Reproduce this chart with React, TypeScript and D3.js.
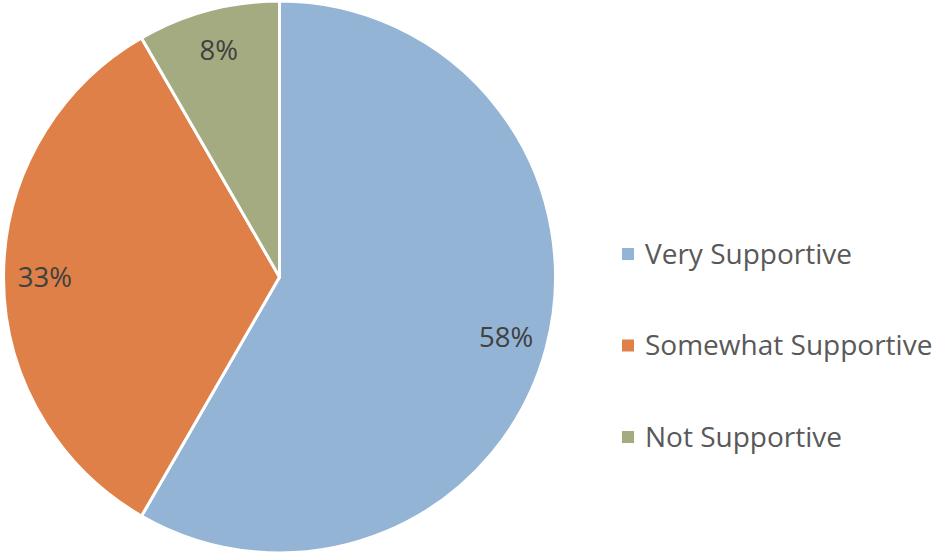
import React from "react";
import * as d3 from "d3";

const categories = ["Very Supportive", "Somewhat Supportive", "Not Supportive"];
const values = [35, 20, 5];
const labels = ["58%", "33%", "8%"];
const colors = ["#93B4D4", "#DE8047", "#A5AB80"];

const W = 933;
const H = 556;

export default function App() {
  const cx = 279.5;
  const cy = 277;
  const R = 276;
  const pie = d3.pie<number>().sort(null).value((d) => d);
  const arcs = pie(values);
  const arc = d3.arc<d3.PieArcDatum<number>>().innerRadius(0).outerRadius(R);
  const labelArc = d3
    .arc<d3.PieArcDatum<number>>()
    .innerRadius(R * 0.85)
    .outerRadius(R * 0.85);

  const legendY = d3.scalePoint<string>().domain(categories).range([254, 437]);

  return (
    <svg
      width={W}
      height={H}
      style={{ position: "absolute", left: 0, top: 0, background: "#fff" }}
      fontFamily="'Open Sans', sans-serif"
    >
      <g transform={`translate(${cx},${cy})`}>
        {arcs.map((a, i) => (
          <path key={i} d={arc(a) || ""} fill={colors[i]} stroke="#fff" strokeWidth={3} strokeLinejoin="round" />
        ))}
        {arcs.map((a, i) => {
          const [x, y] = labelArc.centroid(a);
          return (
            <text key={i} x={x} y={y} dy="0.35em" textAnchor="middle" fontSize={27.5} fill="#404040">
              {labels[i]}
            </text>
          );
        })}
      </g>
      {categories.map((c, i) => {
        const y = legendY(c)!;
        return (
          <g key={c}>
            <rect x={622} y={y - 6} width={12} height={12} fill={colors[i]} />
            <text x={645} y={y} dy="0.35em" fontSize={28} fill="#595959">
              {c}
            </text>
          </g>
        );
      })}
    </svg>
  );
}
